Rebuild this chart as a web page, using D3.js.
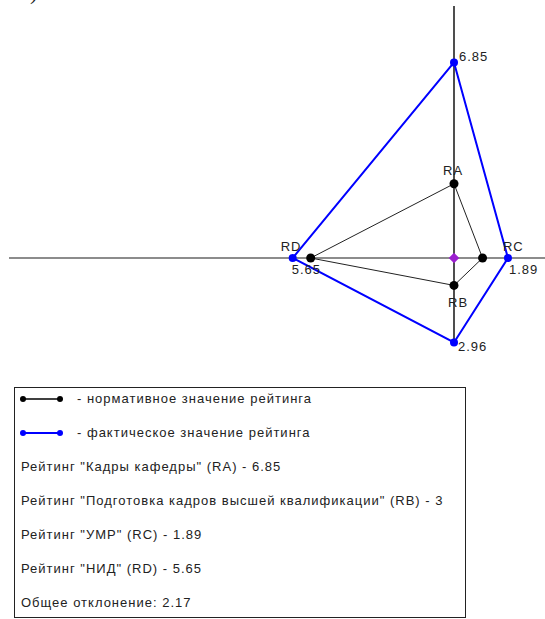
<!DOCTYPE html>
<html>
<head>
<meta charset="utf-8">
<script src="https://cdn.jsdelivr.net/npm/d3@7"></script>
<style>
  html, body { margin: 0; padding: 0; background: #fff; }
  svg { display: block; }
  text { font-family: "Liberation Sans", Arial, sans-serif; font-size: 13px; fill: #222; letter-spacing: 1px; }
</style>
</head>
<body>
<svg id="chart" width="545" height="619"></svg>
<script>
// Rating axes, in drawing order around the diagram
const categories = ["RA", "RB", "RC", "RD"];
// Direction of each axis: RA up, RB down, RC right, RD left
const directions = [[0, -1], [0, 1], [1, 0], [-1, 0]];
// Actual (blue) and normative (black) rating values
const actualValues = [6.85, 2.96, 1.89, 5.65];
const normativeValues = [2.6, 0.96, 1.0, 5.02];
// Legend lines
const legendSeries = ["- нормативное значение рейтинга", "- фактическое значение рейтинга"];
const legendLines = [
  "Рейтинг \"Кадры кафедры\" (RA) - 6.85",
  "Рейтинг \"Подготовка кадров высшей квалификации\" (RB) - 3",
  "Рейтинг \"УМР\" (RC) - 1.89",
  "Рейтинг \"НИД\" (RD) - 5.65",
  "Общее отклонение: 2.17"
];

const svg = d3.select("#chart");
const cx = 454, cy = 258;
const r = d3.scaleLinear().domain([0, 1]).range([0, 28.55]);

function pos(i, v) {
  return [cx + directions[i][0] * r(v), cy + directions[i][1] * r(v)];
}

// tail of the caption above the diagram
svg.append("text").attr("x", 31).attr("y", 1)
  .style("font-family", "'DejaVu Serif', serif").style("font-size", "20px")
  .style("font-style", "italic").style("letter-spacing", "0").text(")");

// axes
svg.append("line").attr("x1", 9).attr("x2", 545).attr("y1", cy).attr("y2", cy)
  .attr("stroke", "#666").attr("stroke-width", 1.6);
svg.append("line").attr("x1", cx).attr("x2", cx).attr("y1", 6).attr("y2", pos(1, actualValues[1])[1])
  .attr("stroke", "#222").attr("stroke-width", 1.6);

// polygon order: RA -> RC -> RB -> RD
const ring = [0, 2, 1, 3];
const line = d3.line().curve(d3.curveLinearClosed);

svg.append("path")
  .attr("d", line(ring.map(i => pos(i, normativeValues[i]))))
  .attr("fill", "none").attr("stroke", "#222").attr("stroke-width", 1);
svg.append("path")
  .attr("d", line(ring.map(i => pos(i, actualValues[i]))))
  .attr("fill", "none").attr("stroke", "#0000ff").attr("stroke-width", 2);

// normative points
svg.selectAll("circle.norm").data(normativeValues).join("circle")
  .attr("class", "norm")
  .attr("cx", (d, i) => pos(i, d)[0]).attr("cy", (d, i) => pos(i, d)[1])
  .attr("r", 4.5).attr("fill", "#000");
// actual points
svg.selectAll("circle.act").data(actualValues).join("circle")
  .attr("class", "act")
  .attr("cx", (d, i) => pos(i, d)[0]).attr("cy", (d, i) => pos(i, d)[1])
  .attr("r", 4).attr("fill", "#0000ff");

// centre marker
svg.append("path").attr("d", d3.symbol(d3.symbolDiamond2, 70)())
  .attr("transform", `translate(${cx},${cy})`).attr("fill", "#9b1fcf");

// axis name labels
const nameOffsets = [[-11, -9, "norm"], [-6, 22, "norm"], [-5, -7, "act"], [-12, -7, "act"]];
categories.forEach((c, i) => {
  const v = nameOffsets[i][2] === "norm" ? normativeValues[i] : actualValues[i];
  const p = pos(i, v);
  svg.append("text").attr("x", p[0] + nameOffsets[i][0]).attr("y", p[1] + nameOffsets[i][1]).text(c);
});

// value labels at actual points
const valueOffsets = [[5, -1], [4, 8], [1, 16], [-1, 16]];
actualValues.forEach((v, i) => {
  const p = pos(i, v);
  svg.append("text").attr("x", p[0] + valueOffsets[i][0]).attr("y", p[1] + valueOffsets[i][1]).text(v.toFixed(2));
});

// legend
const lg = svg.append("g");
lg.append("rect").attr("x", 14.5).attr("y", 387.5).attr("width", 451).attr("height", 230)
  .attr("fill", "#fff").attr("stroke", "#222").attr("stroke-width", 1);
const rowY = d3.scaleLinear().domain([0, 1]).range([403, 437]);
const swatchColors = ["#000", "#0000ff"];
legendSeries.forEach((t, k) => {
  const y = rowY(k) - 4;
  lg.append("line").attr("x1", 23).attr("x2", 60).attr("y1", y).attr("y2", y)
    .attr("stroke", swatchColors[k]).attr("stroke-width", k ? 2 : 1.5);
  [23, 60].forEach(x => lg.append("circle").attr("cx", x).attr("cy", y).attr("r", 3).attr("fill", swatchColors[k]));
  lg.append("text").attr("x", 77).attr("y", rowY(k)).text(t);
});
legendLines.forEach((t, k) => {
  lg.append("text").attr("x", 21).attr("y", rowY(k + 2)).text(t);
});
</script>
</body>
</html>
